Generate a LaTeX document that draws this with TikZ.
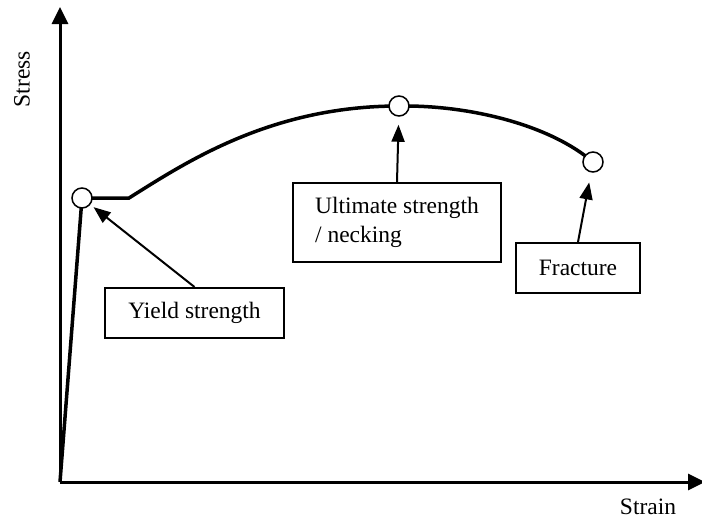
\documentclass[tikz,border=0pt]{standalone}
\usepackage{fontspec}
\setmainfont{Liberation Serif}
\usetikzlibrary{arrows.meta}
\begin{document}
\begin{tikzpicture}[x=1pt,y=-1pt,
  lbl/.style={font=\fontsize{23.5}{29}\selectfont, inner sep=0pt},
  box/.style={draw, line width=2pt, font=\fontsize{23.5}{29}\selectfont, inner sep=0pt, align=left},
  pt/.style={circle, draw, line width=1.5pt, fill=white, minimum size=20pt, inner sep=0pt},
  axis/.style={line width=3pt, -{Triangle[length=17pt,width=16pt]}},
  arr/.style={line width=2pt, -{Triangle[length=17pt,width=13pt]}},
  curve/.style={line width=3.5pt, line join=miter}]
\useasboundingbox (0,0) rectangle (702,520);
\coordinate (o) at (60,482);
\coordinate (ytop) at (60,7);
\coordinate (xend) at (705,482);
\coordinate (bend) at (129,198);
\draw[axis] (o) -- (ytop);
\draw[axis] (o) -- (xend);
\node[lbl, rotate=90] (stress) at (22,79) {Stress};
\node[lbl] (strain) at (648,507) {Strain};
% points
\coordinate (ysc) at (82,198);
\coordinate (usc) at (399,106);
\coordinate (fsc) at (593,162);
\draw[curve] (o) -- (ysc) -- (bend)
  .. controls (185,163) and (270,106) .. (usc)
  .. controls (470,105) and (550,125) .. (fsc);
\node[pt] (ys) at (ysc) {};
\node[pt] (us) at (usc) {};
\node[pt] (fs) at (fsc) {};
% boxes
\node[box, minimum width=179pt, minimum height=50pt] (yb) at (194.5,313) {Yield strength};
\node[box, minimum width=208pt, minimum height=79pt] (ub) at (397,222.5) {Ultimate strength\\/ necking};
\node[box, minimum width=124pt, minimum height=50pt] (fb) at (578,268) {Fracture};
\draw[arr, shorten >=4pt] (yb.north) -- (ys);
\draw[arr, shorten >=8pt] (ub.north) -- (us);
\draw[arr, shorten >=10pt] (fb.north) -- (fs);
\end{tikzpicture}
\end{document}
